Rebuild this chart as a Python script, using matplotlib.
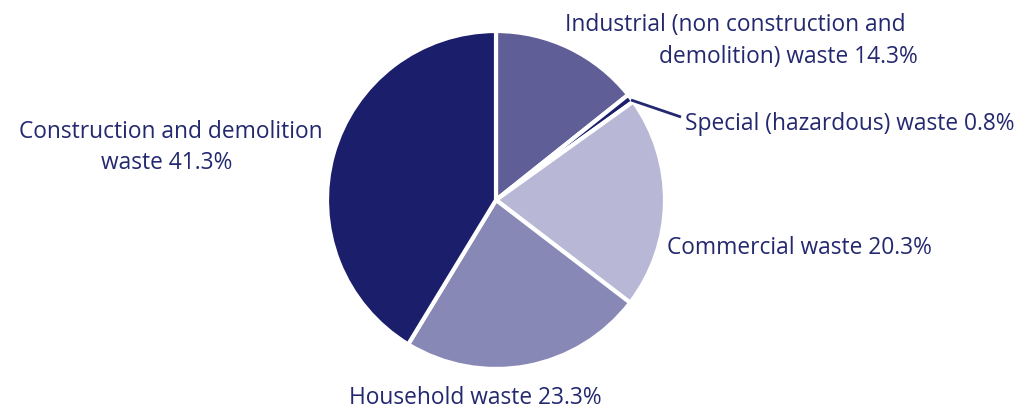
import matplotlib
matplotlib.use("Agg")
import matplotlib.pyplot as plt

categories = ["Industrial (non construction and demolition) waste",
              "Special (hazardous) waste", "Commercial waste",
              "Household waste", "Construction and demolition waste"]
values = [14.3, 0.8, 20.3, 23.3, 41.3]
colors = ["#5f5e96", "#1b1f6b", "#b8b8d6", "#8888b6", "#1b1f6b"]
text_color = "#23286f"

plt.rcParams['font.family'] = ['Open Sans', 'DejaVu Sans']

fig = plt.figure(figsize=(10.24, 4.12), dpi=100)
ax = fig.add_axes([0, 0, 1, 1])

cx, cy, r = 496, 412 - 200, 169
wedges, _ = ax.pie(values, colors=colors, startangle=90, counterclock=False,
                   center=(cx, cy), radius=r, frame=True,
                   wedgeprops=dict(edgecolor='white', linewidth=3))
ax.set_xlim(0, 1024)
ax.set_ylim(0, 412)
ax.axis('off')
ax.set_aspect('auto')

fs = 16.4
# leader line for special waste
ax.plot([631, 681], [412 - 100, 412 - 117], color=text_color, lw=2, solid_capstyle='butt')

ax.text(565, 412 - 25, "Industrial (non construction and", color=text_color, fontsize=fs, ha='left', va='center')
ax.text(659, 412 - 57, f"demolition) waste {values[0]}%", color=text_color, fontsize=fs, ha='left', va='center')
ax.text(685, 412 - 124, f"Special (hazardous) waste {values[1]}%", color=text_color, fontsize=fs, ha='left', va='center')
ax.text(667, 412 - 248, f"Commercial waste {values[2]}%", color=text_color, fontsize=fs, ha='left', va='center')
ax.text(349, 412 - 398, f"Household waste {values[3]}%", color=text_color, fontsize=fs, ha='left', va='center')
ax.text(19, 412 - 132, "Construction and demolition", color=text_color, fontsize=fs, ha='left', va='center')
ax.text(101, 412 - 163, f"waste {values[4]}%", color=text_color, fontsize=fs, ha='left', va='center')

fig.savefig("out.png", dpi=100, facecolor='white')
